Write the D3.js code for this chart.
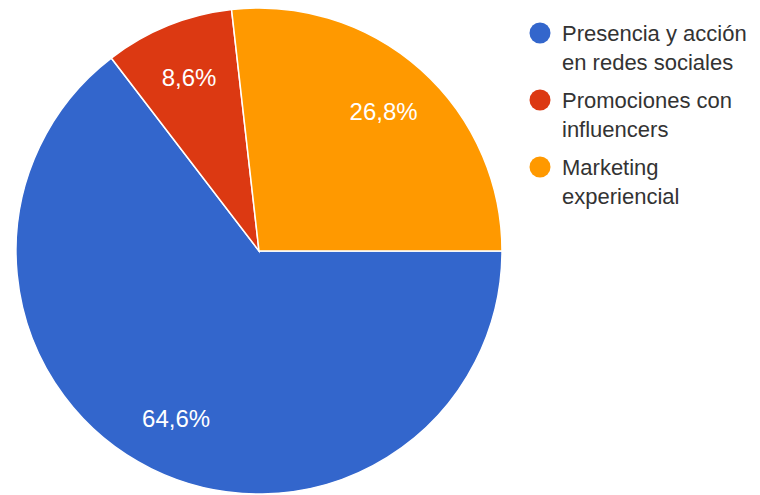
<!DOCTYPE html>
<html>
<head>
<meta charset="utf-8">
<script src="https://cdn.jsdelivr.net/npm/d3@7"></script>
<style>
  html, body { margin: 0; padding: 0; background: #fff; }
  svg { display: block; font-family: "Liberation Sans", Arial, sans-serif; }
</style>
</head>
<body>
<svg id="chart" width="760" height="495"></svg>
<script>
// Share of each marketing strategy (percent)
const categories = ["Presencia y acción en redes sociales", "Promociones con influencers", "Marketing experiencial"];
const legendLines = [["Presencia y acción", "en redes sociales"], ["Promociones con", "influencers"], ["Marketing", "experiencial"]];
const values = [64.6, 8.6, 26.8];
const valueLabels = ["64,6%", "8,6%", "26,8%"];
const colors = ["#3366cc", "#dc3912", "#ff9900"];

const svg = d3.select("#chart");
const cx = 259, cy = 251, radius = 243;

const color = d3.scaleOrdinal().domain(categories).range(colors);

// Slices start at 3 o'clock and run clockwise
const pie = d3.pie()
  .sort(null)
  .value(d => d.value)
  .startAngle(Math.PI / 2)
  .endAngle(Math.PI / 2 + 2 * Math.PI);

const data = categories.map((c, i) => ({ name: c, value: values[i], label: valueLabels[i] }));
const arcs = pie(data);

const arc = d3.arc().innerRadius(0).outerRadius(radius);
const labelArc = d3.arc().innerRadius(radius * 0.77).outerRadius(radius * 0.77);

const g = svg.append("g").attr("transform", `translate(${cx},${cy})`);

g.selectAll("path.slice")
  .data(arcs)
  .join("path")
  .attr("class", "slice")
  .attr("d", arc)
  .attr("fill", d => color(d.data.name))
  .attr("stroke", "#ffffff")
  .attr("stroke-width", 1.5);

g.selectAll("text.value")
  .data(arcs)
  .join("text")
  .attr("class", "value")
  .attr("transform", d => `translate(${labelArc.centroid(d)})`)
  .attr("text-anchor", "middle")
  .attr("dominant-baseline", "central")
  .attr("fill", "#ffffff")
  .attr("font-size", 24)
  .text(d => d.data.label);

// Legend on the right
const legend = svg.append("g").attr("transform", "translate(540,33)");
const item = legend.selectAll("g.item")
  .data(categories)
  .join("g")
  .attr("class", "item")
  .attr("transform", (d, i) => `translate(0,${i * 67})`);

item.append("circle")
  .attr("r", 10.5)
  .attr("fill", d => color(d));

item.append("text")
  .attr("x", 22)
  .attr("y", 8)
  .attr("fill", "#333333")
  .attr("font-size", 22)
  .selectAll("tspan")
  .data((d, i) => legendLines[i])
  .join("tspan")
  .attr("x", 22)
  .attr("dy", (d, j) => j === 0 ? 0 : 29)
  .text(d => d);
</script>
</body>
</html>
